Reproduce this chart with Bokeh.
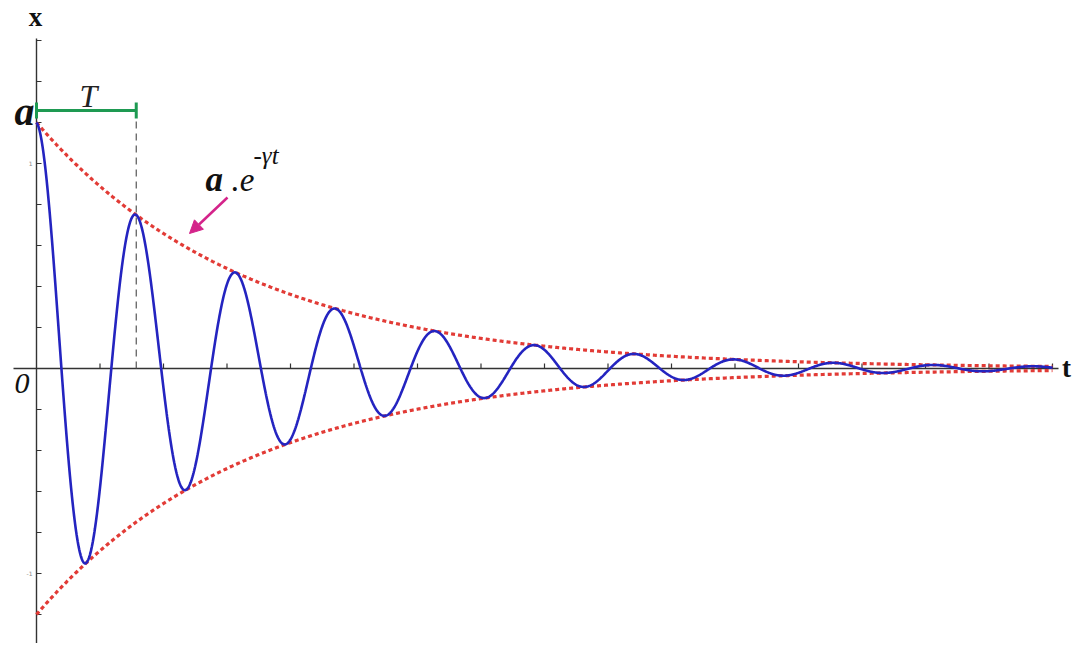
import numpy as np
from bokeh.plotting import figure
from bokeh.models import Arrow, NormalHead
from bokeh.core.properties import value
from bokeh.embed import file_html
from bokeh.resources import INLINE

# ---- data ----
amplitude = 1.2          # a  (initial displacement)
damping = 0.3            # gamma
omega = 4.0              # angular frequency -> period T = pi/2
t_end = 16.0
y_tick_values = [-1.4, -1.2, -1.0, -0.8, -0.6, -0.4, -0.2, 0.2, 0.4, 0.6, 0.8, 1.0, 1.2, 1.4, 1.6]
x_tick_values = [1, 2, 3, 4, 5, 6, 7, 8, 9, 10, 11, 12, 13, 14, 15, 16]
y_tick_labels = {1.0: "1", -1.0: "-1"}

period = 2 * np.pi / omega
t = np.linspace(0, t_end, 2000)
envelope = amplitude * np.exp(-damping * t)
x = envelope * np.cos(omega * t)

W, H = 1075, 643
PX = 63.5   # px per x unit
PY = 205.0  # px per y unit
X0, Y0 = 36, 368  # origin position (px)


def dx(px):
    return (px - X0) / PX


def dy(py):
    return (Y0 - py) / PY


p = figure(width=W, height=H, output_backend="svg", toolbar_location=None,
           x_axis_location=None, y_axis_location=None,
           x_range=(dx(0), dx(W)), y_range=(dy(H), dy(0)),
           min_border=0)
p.grid.visible = False
p.outline_line_color = None
p.background_fill_color = "white"
p.border_fill_color = "white"

axis_color = "#333333"
# axes lines
p.segment(x0=[dx(13), 0], y0=[0, dy(660)], x1=[dx(1058), 0], y1=[0, dy(38)],
          line_color=axis_color, line_width=1.4)
# y ticks (pointing right)
yt = np.array(y_tick_values)
p.segment(x0=np.zeros_like(yt), y0=yt, x1=np.full_like(yt, 5 / PX), y1=yt,
          line_color=axis_color, line_width=1.2)
# x ticks (pointing up)
xt = np.array(x_tick_values, dtype=float)
p.segment(x0=xt, y0=np.zeros_like(xt), x1=xt, y1=np.full_like(xt, 5 / PY),
          line_color=axis_color, line_width=1.2)
# tiny tick labels
p.text(x=[-4 / PX] * len(y_tick_labels), y=list(y_tick_labels.keys()),
       text=list(y_tick_labels.values()), text_align="right", text_baseline="middle",
       text_font_size="6px", text_color="#888888", text_font=value("DejaVu Sans"))

# envelopes
p.line(t, envelope, line_color="#e23b36", line_width=3.2, line_dash="4 3")
p.line(t, -envelope, line_color="#e23b36", line_width=3.2, line_dash="4 3")
# damped oscillation
p.line(t, x, line_color="#2424c0", line_width=2.6)

# dashed marker at t = T
p.segment(x0=[period], y0=[0], x1=[period], y1=[dy(116)],
          line_color="#555555", line_width=1.2, line_dash="7 5")
# green bracket for T
yb = dy(110)
p.segment(x0=[0, 0, period], y0=[yb, dy(118), dy(118)],
          x1=[period, 0, period], y1=[yb, dy(102), dy(102)],
          line_color="#1e9a52", line_width=3)
p.text(x=[dx(88)], y=[dy(95)], text=["T"], text_align="center",
       text_baseline="alphabetic", text_font=value("Liberation Serif"),
       text_font_style="italic", text_font_size="32px", text_color="#222222")

# axis names
p.text(x=[dx(35)], y=[dy(16)], text=["x"], text_align="center",
       text_baseline="alphabetic", text_font=value("Liberation Serif"),
       text_font_style="bold", text_font_size="27px", text_color="#111111")
p.text(x=[dx(1066)], y=[dy(367)], text=["t"], text_align="center",
       text_baseline="alphabetic", text_font=value("Liberation Serif"),
       text_font_style="bold", text_font_size="27px", text_color="#111111")
p.text(x=[dx(29)], y=[dy(383)], text=["0"], text_align="right",
       text_baseline="alphabetic", text_font=value("Liberation Serif"),
       text_font_style="italic", text_font_size="30px", text_color="#111111")
p.text(x=[dx(34)], y=[dy(111)], text=["a"], text_align="right",
       text_baseline="alphabetic", text_font=value("Liberation Serif"),
       text_font_style="bold italic", text_font_size="40px", text_color="#111111")

# envelope annotation a.e^{-γt}
p.text(x=[dx(205)], y=[dy(179)], text=["a"], text_align="left",
       text_baseline="alphabetic", text_font=value("Liberation Serif"),
       text_font_style="bold italic", text_font_size="35px", text_color="#111111")
p.text(x=[dx(231)], y=[dy(179)], text=[".e"], text_align="left",
       text_baseline="alphabetic", text_font=value("Liberation Serif"),
       text_font_style="italic", text_font_size="33px", text_color="#111111")
p.text(x=[dx(253)], y=[dy(155)], text=["-γt"], text_align="left",
       text_baseline="alphabetic", text_font=value("Liberation Serif"),
       text_font_style="italic", text_font_size="25px", text_color="#111111")

p.add_layout(Arrow(x_start=dx(227), y_start=dy(197),
                   x_end=dx(189), y_end=dy(233),
                   line_color="#d4238a", line_width=2.5,
                   end=NormalHead(size=13, fill_color="#d4238a", line_color="#d4238a")))

open("out.html", "w").write(file_html(p, INLINE))
